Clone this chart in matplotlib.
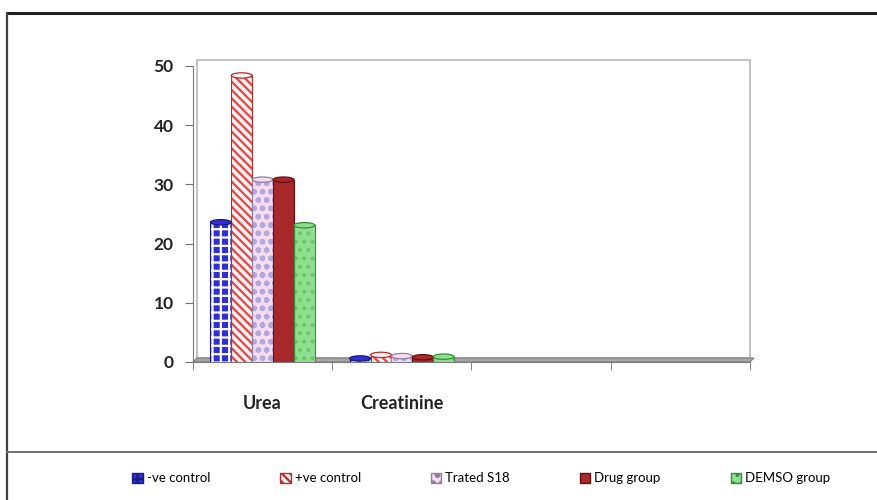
import numpy as np
import matplotlib.pyplot as plt
from matplotlib.patches import Ellipse, Polygon, Rectangle, Patch
from matplotlib.lines import Line2D

categories = ['Urea', 'Creatinine', '', '']
groups = ['-ve control', '+ve control', 'Trated S18', 'Drug group', 'DEMSO group']
urea = [23.6, 48.4, 30.8, 30.8, 23.1]
creatinine = [0.6, 1.2, 1.0, 0.8, 0.9]

fills = ['#2f2fd8', '#fff0f0', '#f6dcf2', '#a8282c', '#8ee08e']
hatch_colors = ['#ffffff', '#e04848', '#b4a8d8', '#8a1e22', '#6cc46c']
hatches = ['++', '\\\\\\\\', 'oo', '', '..']
edges = ['#1a1a80', '#b03030', '#9080a0', '#601010', '#3a8a3a']

plt.rcParams['font.family'] = ['Lato', 'DejaVu Sans']
plt.rcParams['hatch.linewidth'] = 1.6

fig = plt.figure(figsize=(8.78, 5.0), dpi=100)
ax = fig.add_axes([193 / 878, 138 / 500, 557 / 878, 296 / 500])

x = np.arange(len(categories))
w = 0.15
offsets = (np.arange(len(groups)) - 2) * w
values = np.array([urea, creatinine])  # rows: categories with data

# 3d-ish depth offsets in data units
dx = 4 / 140
dy = 4 / 5.92

# back wall and floor
wall = Rectangle((-0.5 + dx, dy), 4.0 - dx, 50.3, facecolor='white',
                 edgecolor='#b8b8b8', lw=1.2, zorder=0, clip_on=False)
ax.add_patch(wall)
floor = Polygon([(-0.5, 0), (3.5, 0), (3.5 + dx, dy), (-0.5 + dx, dy)],
                closed=True, facecolor='#a6a6a6', edgecolor='#808080',
                lw=0.8, zorder=1, clip_on=False)
ax.add_patch(floor)

for i, g in enumerate(groups):
    xs = x[:2] + offsets[i]
    vals = values[:, i]
    ax.bar(xs, vals, w, color=fills[i], edgecolor='none', zorder=3)
    if hatches[i]:
        ax.bar(xs, vals, w, color='none', edgecolor=hatch_colors[i],
               hatch=hatches[i], lw=0, zorder=4)
    ax.bar(xs, vals, w, color='none', edgecolor=edges[i], lw=0.8, zorder=5)
    for xi, v in zip(xs, vals):
        top = Ellipse((xi, v), w, 0.9, facecolor=fills[i], edgecolor=edges[i],
                      lw=0.9, zorder=6, clip_on=False)
        ax.add_patch(top)

ax.set_xlim(-0.5, 3.5)
ax.set_ylim(0, 50)
ax.set_yticks(range(0, 51, 10))
ax.set_xticks(x[:2])
ax.set_xticklabels(categories[:2])
ax.set_xticks(np.arange(-0.5, 3.6, 1), minor=True)
ax.tick_params(axis='x', which='major', length=0, pad=24, labelsize=13)
ax.tick_params(axis='x', which='minor', length=6, direction='out',
               color='#707070')
ax.tick_params(axis='y', length=6, direction='out', color='#707070',
               labelsize=12.5, pad=8)
for lab in ax.get_xticklabels() + ax.get_yticklabels():
    lab.set_fontweight('bold')
    lab.set_color('#222222')

for s in ['top', 'right']:
    ax.spines[s].set_visible(False)
ax.spines['left'].set_color('#7a7a7a')
ax.spines['bottom'].set_color('#7a7a7a')
ax.patch.set_visible(False)

# outer frame and legend divider
fig.add_artist(Line2D([7 / 878, 1.0], [487 / 500, 487 / 500], color='#202020', lw=2.2))
fig.add_artist(Line2D([7 / 878, 7 / 878], [0, 487 / 500], color='#404040', lw=1.6))
fig.add_artist(Line2D([7 / 878, 1.0], [48 / 500, 48 / 500], color='#707070', lw=1.4))

handles = [Patch(facecolor=fills[i], edgecolor=edges[i],
                 hatch=hatches[i] if hatches[i] else None, lw=1)
           for i in range(len(groups))]
fig.legend(handles, groups, loc='center', ncol=5, frameon=False,
           bbox_to_anchor=(0.548, 0.043), fontsize=9.5, handlelength=0.8,
           handleheight=0.8, handletextpad=0.3, columnspacing=5.3)

fig.savefig('out.png', dpi=100)
